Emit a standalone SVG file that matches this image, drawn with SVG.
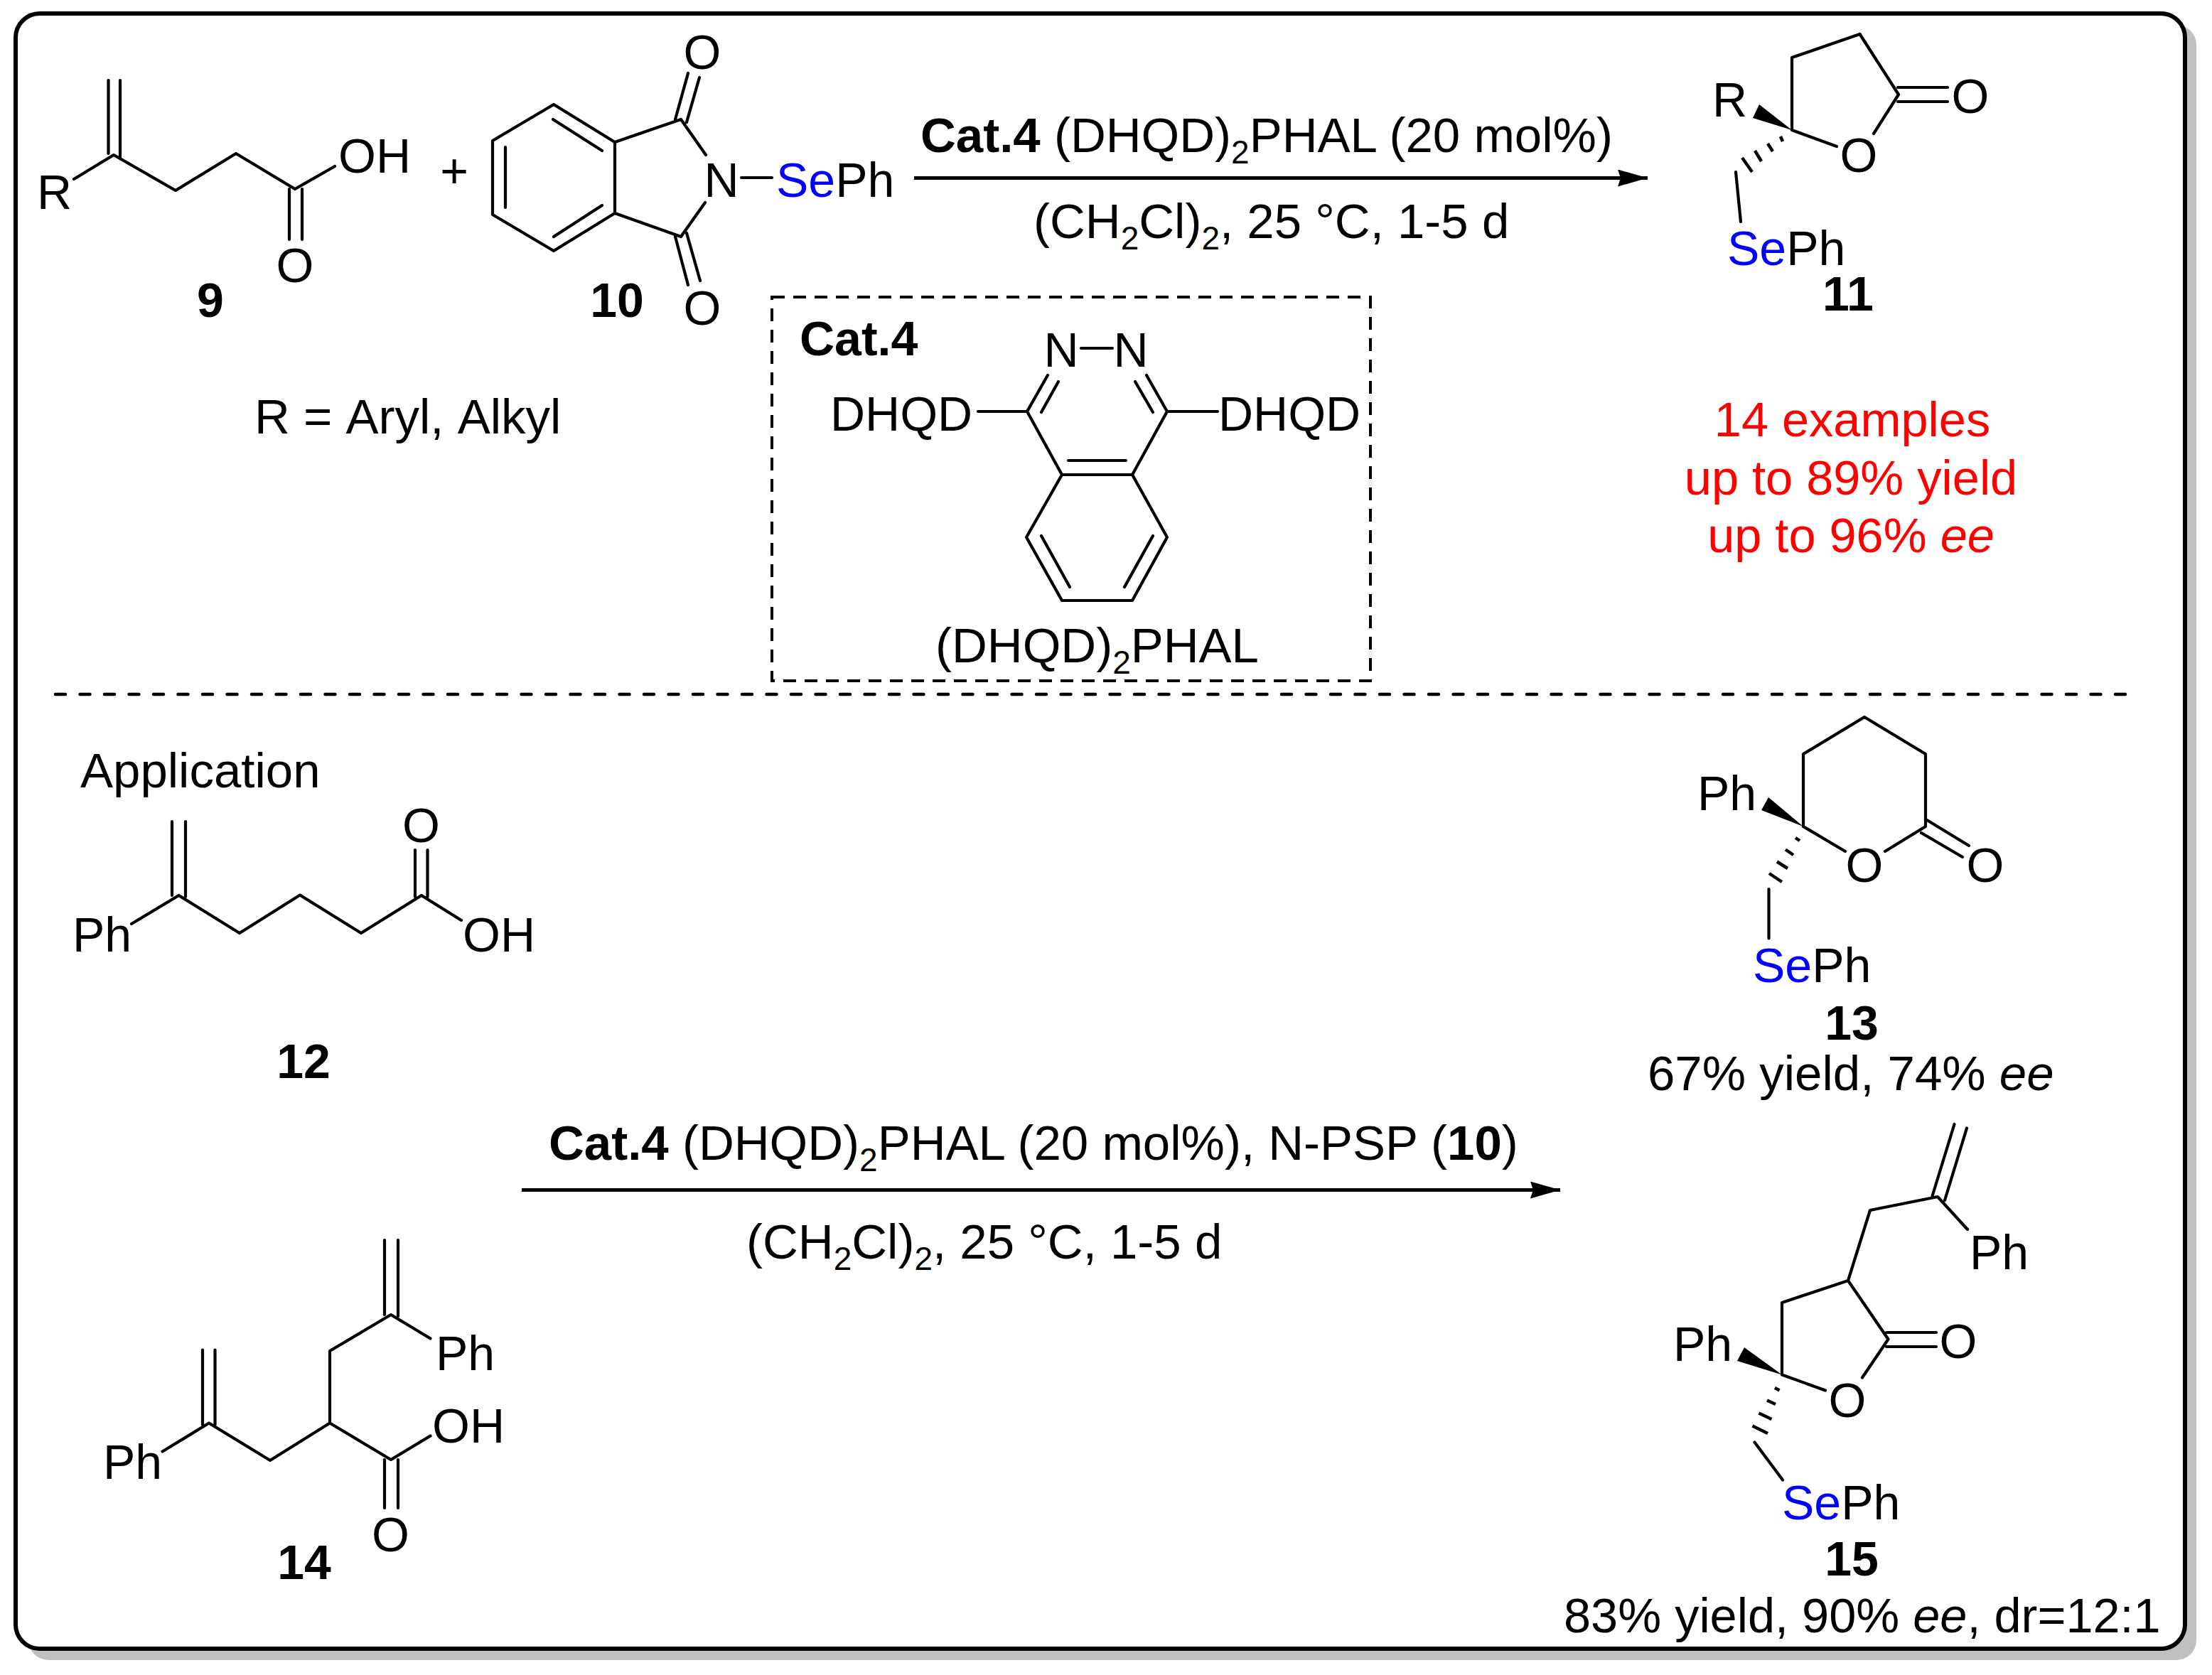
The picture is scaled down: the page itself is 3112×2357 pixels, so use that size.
<svg xmlns="http://www.w3.org/2000/svg" width="3112" height="2357" viewBox="0 0 3112 2357">
<style>
text{font-family:"Liberation Sans",Arial,sans-serif;font-size:68px;fill:#000}
.t{font-size:69px}
.t2{font-size:68.500px}
.nk{font-kerning:none}
.sub{font-size:46px}
.b{font-weight:bold}
.se{fill:#0000ff}
.red{fill:#ff0000}
.m{text-anchor:middle}
.i{font-style:italic}
.bond{stroke:#000;stroke-width:4.2;fill:none;stroke-linecap:round;stroke-linejoin:round}
.hash{stroke:#000;stroke-width:4.5;fill:none}
.dash{stroke:#000;stroke-width:4;fill:none;stroke-dasharray:18 12}
.rule{stroke:#000;stroke-width:4.500;fill:none;stroke-dasharray:14 20.500;stroke-linecap:round}
.arrow{stroke:#000;stroke-width:5;fill:none}
</style>
<defs>
<marker id="ah" markerUnits="userSpaceOnUse" markerWidth="44" markerHeight="26" refX="42" refY="12" orient="auto" viewBox="0 0 44 26"><path d="M42 12L0 0L4 12L0 24Z" fill="#000"/></marker>
</defs>
<rect id="shadow" x="40" y="35" width="3050" height="2301" rx="28" fill="#c0c0c0"/>
<rect id="frame" x="22" y="19" width="3052" height="2301" rx="34" fill="#fff" stroke="#000" stroke-width="6"/>

<g id="connectors">
<path class="arrow" d="M1286 250.500H2318" marker-end="url(#ah)"/>
<path class="arrow" d="M734 1674.500H2195" marker-end="url(#ah)"/>
</g>

<g id="m9">
<path class="bond" d="M152.500 113V216M169 113V222M104 252L160 218L247 268L332 216L415 266L471 234M407 266V337M425 266V337"/>
<text x="52" y="294">R</text><text x="476" y="243">OH</text><text x="415" y="397" class="m">O</text>
<text x="296" y="446" class="b m">9</text>
</g>
<text id="plus" x="639" y="264" class="m">+</text>
<g id="m10">
<path class="bond" d="M779 147L865 200V300L779 353L693 302V198ZM778 168L847 212M711 207V292M847 289L779 333M865 200L958 168L993 218M865 300L958 333L992 285M950 168L968 103M966 172L984 109M950 333L968 401M966 328L985 395M1043 250H1086"/>
<text x="988" y="97" class="m">O</text><text x="988" y="457" class="m">O</text>
<text x="1015" y="277" class="m">N</text>
<text x="1092" y="277"><tspan class="se">Se</tspan>Ph</text>
<text x="868" y="446" class="b m">10</text>
</g>
<g id="cond1">
<text class="t" x="1295" y="214"><tspan class="b">Cat.4</tspan> (DHQD)<tspan dy="16" class="sub">2</tspan><tspan dy="-16">PHAL (20 mol%)</tspan></text>
<text class="t" x="1454" y="335">(CH<tspan dy="16" class="sub">2</tspan><tspan dy="-16">Cl)</tspan><tspan dy="16" class="sub">2</tspan><tspan dy="-16">, 25 °C, 1-5 d</tspan></text>
</g>
<text id="rgroup" class="t nk" x="358" y="610">R = Aryl, Alkyl</text>
<g id="cat4">
<rect class="dash" x="1086" y="418" width="842" height="540"/>
<text x="1125" y="500" class="b">Cat.4</text>
<path class="bond" d="M1521 490H1565M1474 528L1445 579L1494 668H1593L1642 579L1613 528M1489 537L1465 580M1597 537L1622 580M1503 648H1584M1494 668L1444 756L1494 845H1593L1642 756L1593 668M1465 754L1505 826M1622 754L1582 826M1376 579H1445M1642 579H1713"/>
<text x="1493" y="516" class="m">N</text><text x="1591" y="516" class="m">N</text>
<text x="1168" y="606">DHQD</text><text x="1714" y="606">DHQD</text>
<text class="t" x="1316" y="932">(DHQD)<tspan dy="16" class="sub">2</tspan><tspan dy="-16">PHAL</tspan></text>
</g>
<g id="m11">
<path class="bond" d="M2521 183V81L2616.500 48L2671 133L2636 188M2521 183L2584 206M2670 123H2740M2670 143H2740M2442 242L2449 312"/>
<path d="M2521 183L2475 147L2466 166Z" fill="#000"/>
<path class="hash" d="M2505 192L2508 199M2487 202L2494 213M2469 212L2478 227M2451 222L2465 242"/>
<text x="2772" y="159" class="m">O</text><text x="2615" y="242" class="m">O</text>
<text x="2409" y="164">R</text>
<text x="2430" y="373"><tspan class="se">Se</tspan>Ph</text>
<text x="2600" y="437" class="b m">11</text>
</g>
<g id="yield11">
<text x="2606" y="614" class="t2 red m">14 examples</text>
<text x="2604" y="696" class="t2 red m">up to 89% yield</text>
<text x="2604" y="777" class="t2 red m">up to 96% <tspan class="i">ee</tspan></text>
</g>
<path id="divider" class="rule" d="M78 977H2993"/>
<text id="app" class="t" x="113" y="1108">Application</text>
<g id="m12">
<path class="bond" d="M242 1156V1260M261 1156V1262M185 1300L251.500 1260L337 1313L422 1259.500L508 1313L593 1260L649 1295M584 1196V1262M601.500 1196V1262"/>
<text x="592.500" y="1185" class="m">O</text><text x="651" y="1339">OH</text><text x="102" y="1339">Ph</text>
<text x="427" y="1516.500" class="b m">12</text>
</g>
<g id="m14">
<path class="bond" d="M541 1745V1850M560 1745V1852M605.500 1883.500L550 1850L464 1901V2002.500L380 2055L294 2002.500L228.500 2042.500M285 1899.500V2005M302.500 1899.500V2005M464 2002.500L550 2054L605.500 2020.500M541 2054V2122M560 2054V2122"/>
<text x="613" y="1928">Ph</text><text x="145" y="2081">Ph</text><text x="608" y="2030">OH</text>
<text x="549.500" y="2183" class="m">O</text>
<text x="428" y="2221.500" class="b m">14</text>
</g>
<g id="cond2">
<text class="t" x="772" y="1632"><tspan class="b">Cat.4</tspan> (DHQD)<tspan dy="16" class="sub">2</tspan><tspan dy="-16">PHAL (20 mol%), N-PSP (</tspan><tspan class="b">10</tspan>)</text>
<text class="t" x="1050" y="1771">(CH<tspan dy="16" class="sub">2</tspan><tspan dy="-16">Cl)</tspan><tspan dy="16" class="sub">2</tspan><tspan dy="-16">, 25 °C, 1-5 d</tspan></text>
</g>
<g id="m13">
<path class="bond" d="M2537 1163V1061L2623 1009L2709 1061V1163L2652 1198M2537 1163L2596 1198M2711 1154L2770 1190M2703 1172L2761 1206M2488.500 1251V1320.500"/>
<path d="M2537 1163L2488 1122L2478 1140Z" fill="#000"/>
<path class="hash" d="M2526 1179L2532 1183M2512 1195.500L2523 1203M2500 1212.500L2515 1222M2489 1229L2507 1241"/>
<text x="2623" y="1241" class="m">O</text><text x="2793" y="1241" class="m">O</text>
<text x="2388" y="1140">Ph</text>
<text x="2466" y="1382"><tspan class="se">Se</tspan>Ph</text>
<text x="2605" y="1462.500" class="b m">13</text>
<text class="t" x="2318" y="1534">67% yield, 74% <tspan class="i">ee</tspan></text>
</g>
<g id="m15">
<path class="bond" d="M2749.500 1582L2718.500 1683M2767 1587.500L2736 1689M2768 1730L2726 1684L2631 1703L2600 1802L2507 1833V1934.500L2568 1956.500M2600 1802L2656.500 1884.500L2620 1938.500M2654 1875H2724M2654 1895H2724M2468.500 2029.500L2508 2082.500"/>
<path d="M2507 1934.500L2454 1896L2444 1915Z" fill="#000"/>
<path class="hash" d="M2497 1953L2503.500 1956.500M2486 1970.500L2498 1976M2474.500 1988.500L2492.500 1997M2465.500 2006.500L2487 2017"/>
<text x="2755" y="1911" class="m">O</text><text x="2599" y="1994" class="m">O</text>
<text x="2771" y="1786">Ph</text><text x="2354" y="1915">Ph</text>
<text x="2507" y="2138"><tspan class="se">Se</tspan>Ph</text>
<text x="2605" y="2216.500" class="b m">15</text>
<text class="t2" x="2200" y="2297">83% yield, 90% <tspan class="i">ee</tspan>, dr=12:1</text>
</g>
</svg>
